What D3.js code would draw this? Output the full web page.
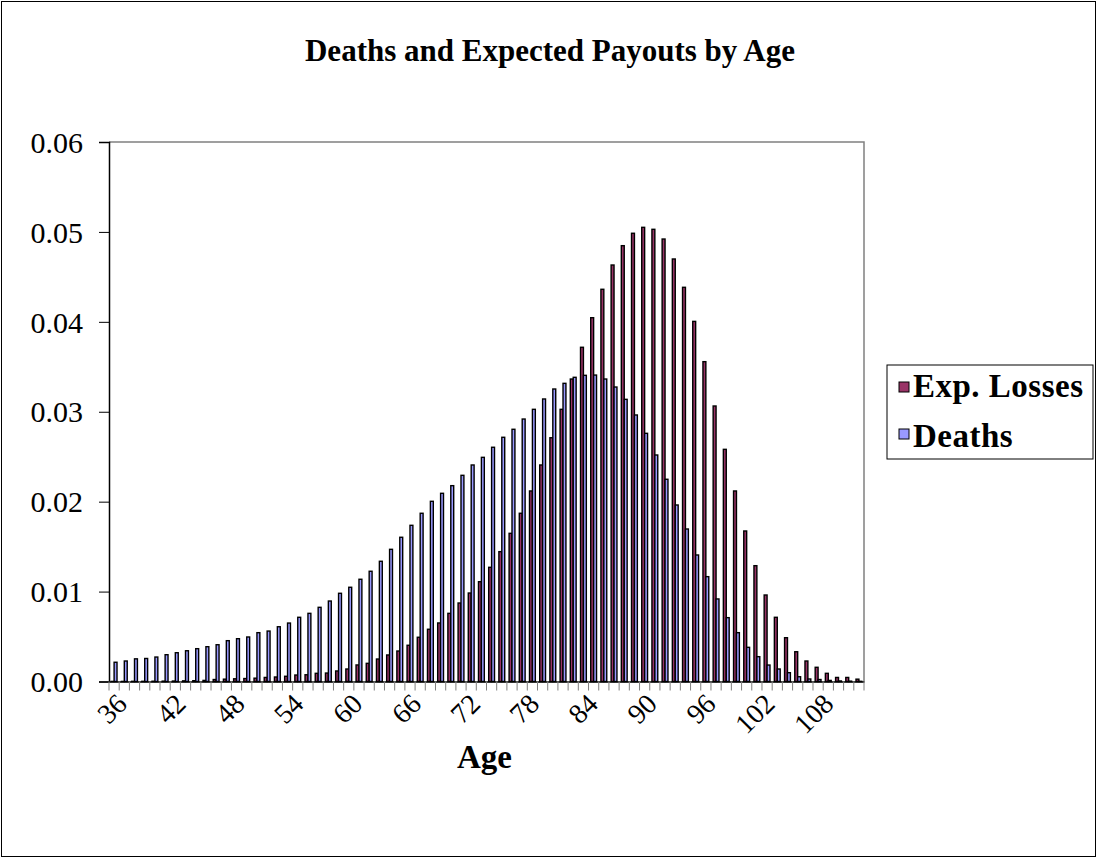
<!DOCTYPE html>
<html>
<head>
<meta charset="utf-8">
<script src="https://cdn.jsdelivr.net/npm/d3@7"></script>
<style>
  body { margin: 0; background: #fff; }
  svg { display: block; }
  text { font-family: "Liberation Serif", "Times New Roman", serif; fill: #000; }
</style>
</head>
<body>
<svg id="chart" width="1097" height="858"></svg>
<script>
// ages on the category axis
const ages = [36,37,38,39,40,41,42,43,44,45,46,47,48,49,50,51,52,53,54,55,
  56,57,58,59,60,61,62,63,64,65,66,67,68,69,70,71,72,73,74,75,
  76,77,78,79,80,81,82,83,84,85,86,87,88,89,90,91,92,93,94,95,
  96,97,98,99,100,101,102,103,104,105,106,107,108,109]

// series 1 - expected losses
const expLosses = [0.00001,0.00001,0.00002,0.00002,0.00003,0.00004,0.00005,0.00007,0.00009,0.00012,
  0.00022,0.00026,0.0003,0.00033,0.00037,0.00045,0.0005,0.00058,0.00072,0.00075,
  0.00091,0.00094,0.00117,0.00139,0.00184,0.00202,0.0025,0.00295,0.00339,0.00403,
  0.00492,0.00581,0.00651,0.00758,0.00873,0.00984,0.0111,0.0127,0.01444,0.01648,
  0.01871,0.02119,0.02408,0.02711,0.03027,0.03364,0.03717,0.04046,0.04362,0.04632,
  0.04847,0.04985,0.05051,0.05029,0.04921,0.04699,0.04384,0.04005,0.03557,0.03064,
  0.02582,0.02119,0.01674,0.01288,0.00962,0.00714,0.00487,0.00331,0.00228,0.00158,
  0.00091,0.00045,0.00045,0.00026]

// series 2 - deaths
const deaths = [0.00214,0.00228,0.00252,0.00256,0.00272,0.00298,0.0032,0.00342,0.00365,0.00387,
  0.00409,0.00454,0.00476,0.00495,0.00543,0.00561,0.00609,0.0065,0.00714,0.00758,
  0.00825,0.00895,0.00981,0.01048,0.01137,0.01226,0.01337,0.0147,0.01604,0.01737,
  0.01871,0.02004,0.02093,0.02178,0.02293,0.02408,0.02493,0.02605,0.02716,0.02805,
  0.02919,0.03027,0.03142,0.03253,0.03316,0.03383,0.03405,0.03408,0.03364,0.03275,
  0.03138,0.02964,0.0276,0.02519,0.02249,0.01963,0.01696,0.01407,0.01166,0.00918,
  0.0071,0.00543,0.0038,0.00276,0.00183,0.00139,0.00098,0.00053,0.00028,0.00022,
  0.00012,0.00006,0.00004,0.00002]

const seriesNames = ["Exp. Losses","Deaths"]
const seriesColors = ["#993366","#9999FF"]
const yTicks = [0,0.01,0.02,0.03,0.04,0.05,0.06]
const xLabelAges = [36,42,48,54,60,66,72,78,84,90,96,102,108]

const W = 1097, H = 858
const plot = {left: 109, right: 864, top: 142, bottom: 681.5}

const svg = d3.select("#chart")

// outer chart border
svg.append("rect")
  .attr("x",1.5).attr("y",1.5)
  .attr("width",W-3).attr("height",H-3)
  .attr("fill","#fff").attr("stroke","#000").attr("stroke-width",1)

let x = d3.scaleBand()
  .domain(ages)
  .range([plot.left, plot.right])
  .padding(0)

// two bars per category, Excel gap width 150%
let xSeries = d3.scaleBand()
  .domain([0,1])
  .range([0, x.bandwidth()])
  .paddingInner(0)
  .paddingOuter(0.75)

let y = d3.scaleLinear()
  .domain([0,0.06])
  .range([plot.bottom, plot.top])

// plot area frame (gray on top and right)
svg.append("path")
  .attr("d","M"+plot.left+","+plot.top+"H"+plot.right+"V"+plot.bottom)
  .attr("fill","none").attr("stroke","#808080").attr("stroke-width",1.5)

const rows = ages.map((a,i)=>({age:a, vals:[expLosses[i], deaths[i]]}))

let groups = svg.append("g").selectAll("g")
  .data(rows)
  .enter().append("g")
  .attr("transform", d=>"translate(" + x(d.age) + ",0)")

groups.selectAll("rect")
  .data(d=>d.vals.map((v,k)=>({k:k, v:v})))
  .enter().append("rect")
  .attr("x", d=>xSeries(d.k))
  .attr("width", xSeries.bandwidth())
  .attr("y", d=>y(d.v))
  .attr("height", d=>plot.bottom - y(d.v))
  .attr("fill", d=>seriesColors[d.k])
  .attr("stroke","#000")
  .attr("stroke-width",1.4)

// y axis
let yAxis = d3.axisLeft(y)
  .tickValues(yTicks)
  .tickFormat(d3.format(".2f"))
  .tickSize(10)
  .tickPadding(16)

let yG = svg.append("g")
  .attr("transform","translate(" + plot.left + ",0)")
  .call(yAxis)
yG.select(".domain").attr("stroke","#000").attr("stroke-width",1.5)
yG.selectAll(".tick line").attr("stroke","#000")
yG.selectAll("text")
  .style("font-size","30px")
  .attr("dy","0.34em")

// x axis line and ticks on category boundaries
let xG = svg.append("g")
  .attr("transform","translate(0," + plot.bottom + ")")
  .call(d3.axisBottom(x).tickValues([]).tickSizeOuter(0))
xG.select(".domain").attr("stroke","#000").attr("stroke-width",1.5)

svg.append("g").selectAll("line")
  .data(ages.concat(["end"]))
  .enter().append("line")
  .attr("x1", d=>d==="end" ? plot.right : x(d))
  .attr("x2", d=>d==="end" ? plot.right : x(d))
  .attr("y1", plot.bottom)
  .attr("y2", plot.bottom + 9)
  .attr("stroke","#808080")
  .attr("stroke-width",1)

// rotated age labels every 6 years; the original packs them a bit tighter than the bars
let xLabel = d3.scaleLinear()
  .domain([xLabelAges[0], xLabelAges[xLabelAges.length-1]])
  .range([x(xLabelAges[0]) + x.bandwidth()/2 + 14, x(xLabelAges[xLabelAges.length-1]) + x.bandwidth()/2 - 14])

let labelG = svg.append("g")
  .attr("transform","translate(0," + plot.bottom + ")")
  .call(d3.axisBottom(xLabel).tickValues(xLabelAges).tickFormat(d3.format("d")).tickSize(0))
labelG.select(".domain").remove()
labelG.selectAll("text")
  .attr("x",0).attr("y",0).attr("dy",0)
  .attr("text-anchor","end")
  .attr("transform","translate(0,24) rotate(-45)")
  .style("font-size","28px")

// titles
svg.append("text")
  .attr("x",550).attr("y",61)
  .attr("text-anchor","middle")
  .style("font-size","31px").style("font-weight","bold")
  .text("Deaths and Expected Payouts by Age")

svg.append("text")
  .attr("x",(plot.left+plot.right)/2 - 2).attr("y",768)
  .attr("text-anchor","middle")
  .style("font-size","33px").style("font-weight","bold")
  .text("Age")

// legend
let legend = svg.append("g")
legend.append("rect")
  .attr("x",887).attr("y",365)
  .attr("width",206).attr("height",94)
  .attr("fill","#fff").attr("stroke","#000").attr("stroke-width",1)

seriesNames.forEach((name,k)=>{
  legend.append("rect")
    .attr("x",899).attr("y",382+k*47)
    .attr("width",10).attr("height",10)
    .attr("fill",seriesColors[k]).attr("stroke","#000")
  legend.append("text")
    .attr("x",913).attr("y",397+k*50)
    .style("font-size","33px").style("font-weight","bold")
    .style("letter-spacing","0.5px")
    .text(name)
})
</script>
</body>
</html>
